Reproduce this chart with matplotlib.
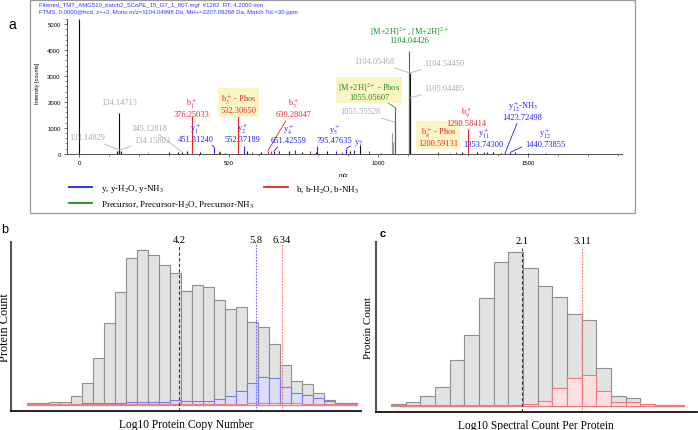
import numpy as np
import matplotlib
matplotlib.use("Agg")
from matplotlib import pyplot as plt
from matplotlib.patches import Rectangle
from matplotlib.lines import Line2D
from matplotlib.ticker import MultipleLocator

plt.rcParams['font.family'] = 'Liberation Sans'
plt.rcParams['mathtext.fontset'] = 'stix'
SERIF = 'Liberation Serif'

# ---------------- panel a: annotated spectrum ----------------
header_lines = [
    "Filtered_TMT_AMG510_batch2_SCoPE_15_G7_1_807.mgf  #1262  RT: 4.2000 min",
    "FTMS, 0.0000@hcd, z=+2, Mono m/z=1104.04998 Da, MH+=2207.09268 Da, Match Tol.=30 ppm",
]

# unlabelled peaks (o = other, y / b ions, g = grey)
peak_mz = [0.0, 126.1, 140.2, 230.2, 301.5, 330.1, 360.3, 402.2, 466.3, 470.3,
           488.6, 560.2, 579.3, 608.4, 640.5, 668.3, 700.2, 719.8, 744.9, 770.3,
           790.4, 829.5, 858.4, 880.2, 905.6, 920.3, 940.5, 968.2, 1010.3, 1046.0,
           1048.5, 1240.2, 1258.4, 1279.6, 1331.2, 1362.5, 1383.4, 1410.2, 1457.8,
           1502.3, 1561.0]
peak_int = [5190, 90, 120, 40, 70, 60, 110, 50, 120, 60,
            40, 90, 70, 80, 120, 90, 110, 130, 80, 90,
            70, 120, 100, 80, 110, 130, 330, 90, 40, 800,
            450, 40, 60, 80, 60, 50, 60, 40, 60,
            40, 30]
peak_ion = ['o', 'o', 'o', 'o', 'o', 'o', 'o', 'o', 'b', 'o',
            'o', 'o', 'b', 'o', 'b', 'y', 'o', 'y', 'o', 'b',
            'o', 'o', 'y', 'b', 'o', 'y', 'o', 'b', 'o', 'g',
            'g', 'o', 'b', 'o', 'o', 'y', 'o', 'y', 'y',
            'o', 'o']

# labelled peaks
lab_mz = [134.14713, 133.14829, 134.15803, 345.12818, 376.25033, 451.31240,
          532.30650, 552.37189, 630.28047, 651.42559, 795.47635, 893.5,
          1055.05607, 1055.55528, 1104.04426, 1104.05468, 1104.54450, 1105.04485,
          1200.59131, 1298.58414, 1353.74300, 1423.72498, 1440.73855]
lab_int = [1590, 150, 150, 55, 1450, 250,
           1480, 310, 100, 100, 240, 200,
           1790, 1210, 3970, 3116, 3116, 2150,
           50, 954, 60, 20, 50]
lab_ion = ['o', 'o', 'o', 'o', 'b', 'y',
           'b', 'y', 'b', 'y', 'y', 'y',
           'p', 'o', 'p', 'o', 'o', 'o',
           'b', 'b', 'y', 'y', 'y']
lab_text = ["134.14713", "133.14829", "134.15803", "345.12818",
            "b$_1^+$\n376.25033", "y$_1^+$\n451.31240",
            "b$_3^+$ - Phos\n532.30650", "y$_2^+$\n552.37189",
            "b$_3^+$\n630.28047", "y$_4^+$\n651.42559",
            "y$_5^+$\n795.47635", "y$_7$",
            "[M+2H]$^{2+}$ - Phos\n1055.05607", "1055.55528",
            "[M+2H]$^{2+}$, [M+2H]$^{2+}$\n1104.04426", "1104.05468",
            "1104.54450", "1105.04485",
            "b$_8^+$ - Phos\n1200.59131", "b$_9^+$\n1298.58414",
            "y$_{11}^+$\n1353.74300", "y$_{12}^+$-NH$_3$\n1423.72498",
            "y$_{12}^+$\n1440.73855"]

# label layout: offset (points) from peak top, leader line, highlight box
lab_off = [(0, 7.6), (-23, 9), (23.5, 7), (-23.4, 17.7), (0, 6.4), (-13.5, 11.3),
           (0, 8.6), (-1.1, 9.9), (18.9, 31.7), (10.7, 13), (12.2, 10.8), (8.4, 4.9),
           (-18.4, 12.1), (-25.1, 8), (0, 12.2), (-25.3, 8.6), (25, 7.2), (24.9, 7),
           (0, 11.7), (-0.6, 9.3), (-0.5, 11.0), (12.7, 31.5), (25.1, 11.4)]
lab_lead = [False, True, True, True, False, True,
            False, False, True, True, True, True,
            True, True, False, True, True, True,
            False, False, False, True, True]
lab_box = [False] * 6 + [True] + [False] * 5 + [True] + [False] * 5 + [True] + [False] * 4

line_col = {'o': '#111111', 'y': '#2020ff', 'b': '#e8232b', 'p': '#1e8b1e', 'g': '#9a9a9a'}
text_col = {'o': '#a8a8a8', 'y': '#2020ff', 'b': '#e8232b', 'p': '#1e8b1e'}

legend_labels = ["y, y-H$_2$O, y-NH$_3$", "Precursor, Precursor-H$_2$O, Precursor-NH$_3$",
                 "b, b-H$_2$O, b-NH$_3$"]
legend_ions = ['y', 'p', 'b']

# ---------------- panel b / c: histograms ----------------
copy_all = [5, 5, 7, 7, 25, 66, 141, 244, 337, 439, 465, 449, 418, 394, 340,
            360, 354, 313, 286, 292, 249, 232, 183, 118, 72, 61, 34, 13, 5, 3]
copy_blue = [0, 0, 0, 0, 0, 4, 5, 6, 6, 7, 7, 7, 7, 14, 11,
             12, 12, 17, 25, 42, 64, 83, 79, 52, 35, 28, 19, 11, 5, 5]
copy_red = [2, 2, 2, 2, 2, 2, 2, 2, 2, 2, 2, 2, 2, 2, 2,
            2, 2, 2, 2, 3, 4, 5, 5, 4, 4, 3, 3, 2, 1, 1]
copy_start, copy_width = 1.045, 0.2286
copy_means = [4.2, 5.8, 6.34]

spec_all = [6, 10, 28, 57, 137, 212, 323, 430, 460, 412,
            358, 327, 276, 256, 112, 28, 22, 4, 2, 2]
spec_red = [1, 1, 1, 1, 1, 1, 1, 1, 2, 5,
            14, 52, 82, 92, 43, 10, 10, 4, 2, 2]
spec_start, spec_width = -0.11, 0.247
spec_means = [2.1, 3.11]

W, H = 698, 431
fig = plt.figure(figsize=(W / 100, H / 100), dpi=100)


def fr(x0, y0, x1, y1):
    return [x0 / W, 1 - y1 / H, (x1 - x0) / W, (y1 - y0) / H]


# panel a frame
fig.patches.append(Rectangle((30 / W, 1 - 214 / H), 605 / W, 213 / H, transform=fig.transFigure,
                             fill=False, ec='#9a9a9a', lw=0.9))
fig.text(12 / W, 1 - 25 / H, 'a', fontsize=10, ha='center', va='center')
for i, ln in enumerate(header_lines):
    fig.text(39 / W, 1 - (6 + 6.3 * i) / H, ln, fontsize=4.3, color='#2b3cff', va='center')

ax = fig.add_axes(fr(67, 20, 621.7, 154.7))
for ion in ['o', 'g', 'y', 'b']:
    idx = [i for i, k in enumerate(peak_ion) if k == ion]
    ax.vlines([peak_mz[i] for i in idx], 0, [peak_int[i] for i in idx], color=line_col[ion], lw=0.8)
for ion in ['o', 'y', 'b', 'p']:
    idx = [i for i, k in enumerate(lab_ion) if k == ion]
    ax.vlines([lab_mz[i] for i in idx], 0, [lab_int[i] for i in idx], color=line_col[ion], lw=0.8)

for mz, inten, ion, txt, off, lead, box in zip(lab_mz, lab_int, lab_ion, lab_text,
                                                lab_off, lab_lead, lab_box):
    kw = {}
    if lead:
        kw['arrowprops'] = dict(arrowstyle='-', color=text_col[ion] if ion != 'o' else '#b5b5b5',
                                lw=0.6, shrinkA=0, shrinkB=0)
    bb = dict(boxstyle='square,pad=0.25', fc='#fbf5c6', ec='none') if box else None
    ax.annotate(txt, xy=(mz, inten), xytext=off, textcoords='offset points',
                ha='center', va='center', fontsize=6, family=SERIF, color=text_col[ion],
                linespacing=1.0, bbox=bb, annotation_clip=False, **kw)

ax.set_xlim(-41, 1814)
ax.set_ylim(0, 5200)
ax.set_xticks([0, 500, 1000, 1500])
ax.set_yticks([0, 1000, 2000, 3000, 4000, 5000])
ax.xaxis.set_minor_locator(MultipleLocator(100))
ax.yaxis.set_minor_locator(MultipleLocator(200))
ax.tick_params(labelsize=4.3, length=2.5, width=0.5, pad=2, color='#333333')
ax.tick_params(which='minor', length=1.5, width=0.4, color='#333333')
for s in ['top', 'right']:
    ax.spines[s].set_visible(False)
for s in ['left', 'bottom']:
    ax.spines[s].set_linewidth(0.6)
    ax.spines[s].set_color('#333333')
ax.set_xlabel('m/z', fontsize=4.3)
ax.xaxis.set_label_coords(0.4976, -0.134)
ax.set_ylabel('Intensity [counts]', fontsize=4)
ax.yaxis.set_label_coords(-0.049, 0.53)

handles = [Line2D([], [], color=line_col[k], lw=1.3) for k in legend_ions]
fig.legend(handles, legend_labels, ncol=2, loc='upper left', bbox_to_anchor=(69 / W, 1 - 183.5 / H),
           frameon=False, borderpad=0, borderaxespad=0, handlelength=2.6, handletextpad=0.9,
           columnspacing=1.2, labelspacing=0.45, prop={'family': SERIF, 'size': 6.5})


def hist_panel(rect, start, width, all_counts, overlays, means, mean_cols, xlab, ylab_size,
               xlim, ylim, line_top):
    a = fig.add_axes(rect)
    edges = start + width * np.arange(len(all_counts) + 1)
    a.bar(edges[:-1], all_counts, width=width, align='edge', color='#e2e2e2',
          edgecolor='#8e8e8e', lw=0.8)
    for counts, fc, ec in overlays:
        a.bar(edges[:-1], counts, width=width, align='edge', color=fc, edgecolor=ec, lw=0.8)
    for m, c in zip(means, mean_cols):
        ls = (0, (3, 2)) if c == '#333333' else (0, (1.5, 1.2))
        a.axvline(m, ymin=0, ymax=line_top, color=c, ls=ls, lw=0.8)
        a.text(m, ylim[1] + 6, f"{m:g}", ha='center', va='center', fontsize=7.5,
               family=SERIF, clip_on=False)
    a.set_xlim(*xlim)
    a.set_ylim(*ylim)
    a.set_xticks([])
    a.set_yticks([])
    for s in ['top', 'right']:
        a.spines[s].set_visible(False)
    a.spines['left'].set_color('#555555')
    a.spines['left'].set_linewidth(1.5)
    a.spines['bottom'].set_color('#111111')
    a.spines['bottom'].set_linewidth(1.3)
    a.set_xlabel(xlab, family=SERIF, fontsize=8.3, labelpad=5)
    a.set_ylabel('Protein Count', family=SERIF, fontsize=ylab_size, labelpad=2)
    return a


axb = hist_panel(fr(11, 242.7, 361, 411.7), copy_start, copy_width, copy_all,
                 [(copy_blue, '#dedef9', '#7a7af0'), (copy_red, '#fbdcdc', '#f08080')],
                 copy_means, ['#333333', '#6b6bff', '#ff7070'],
                 'Log10 Protein Copy Number', 8.8, (0.706, 7.98), (-18, 489), 0.985)
axb.yaxis.set_label_coords(0.0, 0.5)
fig.text(5 / W, 1 - 230 / H, 'b', fontsize=9, ha='center', va='center')

axc = hist_panel(fr(376, 243.3, 696.7, 413.3), spec_start, spec_width, spec_all,
                 [(spec_red, '#fcdfe0', '#f07a7a')],
                 spec_means, ['#333333', '#ff7070'],
                 'Log10 Spectral Count Per Protein', 8, (-0.363, 5.04), (-20, 490), 0.967)
fig.text(382.3 / W, 1 - 234.3 / H, 'c', fontsize=8, fontweight='bold', ha='center', va='center')

fig.savefig('out.png', dpi=100)
